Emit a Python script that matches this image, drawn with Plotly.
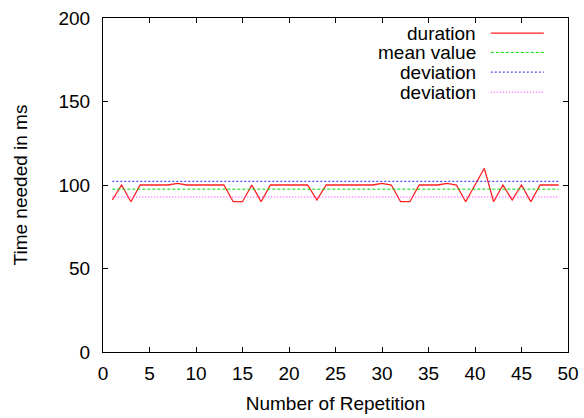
import plotly.graph_objects as go

repetition = list(range(1, 50))
duration = [91, 100, 90, 100, 100, 100, 100, 101, 100, 100,
            100, 100, 100, 90, 90, 100, 90, 100, 100, 100,
            100, 100, 91, 100, 100, 100, 100, 100, 100, 101,
            100, 90, 90, 100, 100, 100, 101, 100, 90, 100,
            110, 90, 100, 91, 100, 90, 100, 100, 100]
mean_value = 97.5
dev_upper = 102.2
dev_lower = 92.8

series_names = ["duration", "mean value", "deviation", "deviation"]
series_colors = ["#ff2020", "#00dd00", "#2020ff", "#ff20ff"]
series_dash = ["solid", "3px,2px", "2px,2px", "1px,2px"]
series_width = [1.3, 1, 1, 1]

FONT = "Liberation Sans, Arial, Helvetica, sans-serif"
FS = 19

fig = go.Figure()
ys = [duration,
      [mean_value] * len(repetition),
      [dev_upper] * len(repetition),
      [dev_lower] * len(repetition)]
for name, y, c, d, w in zip(series_names, ys, series_colors, series_dash, series_width):
    fig.add_trace(go.Scatter(x=repetition, y=y, mode="lines", name=name,
                             line=dict(color=c, width=w, dash=d),
                             showlegend=False))

# gnuplot-style legend: right-aligned text, sample line to the right
row_y = [0.955, 0.897, 0.838, 0.778]
for name, c, d, w, yy in zip(series_names, series_colors, series_dash, series_width, row_y):
    fig.add_annotation(x=0.806, y=yy, xref="paper", yref="paper",
                       text=name, showarrow=False, xanchor="right",
                       yanchor="middle", font=dict(family=FONT, size=FS, color="black"))
    fig.add_shape(type="line", xref="paper", yref="paper",
                  x0=0.834, x1=0.948, y0=yy, y1=yy,
                  line=dict(color=c, width=w, dash=d))

axis_common = dict(showline=True, linecolor="black", linewidth=1, mirror="ticks",
                   ticks="inside", ticklen=5, tickcolor="black", showgrid=False,
                   zeroline=False, automargin=False,
                   tickfont=dict(family=FONT, size=FS, color="black"))

fig.update_layout(
    width=584, height=418,
    margin=dict(l=103, r=16, t=18, b=66),
    plot_bgcolor="white", paper_bgcolor="white",
    font=dict(family=FONT, size=FS, color="black"),
    xaxis=dict(range=[0, 50], dtick=5, tick0=0,
               title=dict(text="Number of Repetition", standoff=13,
                          font=dict(family=FONT, size=FS)),
               ticklabelstandoff=4, **axis_common),
    yaxis=dict(range=[0, 200], dtick=50, tick0=0,
               title=dict(text="Time needed in ms", standoff=25,
                          font=dict(family=FONT, size=FS)),
               ticklabelstandoff=8, **axis_common),
)

fig.write_html("out.html")
